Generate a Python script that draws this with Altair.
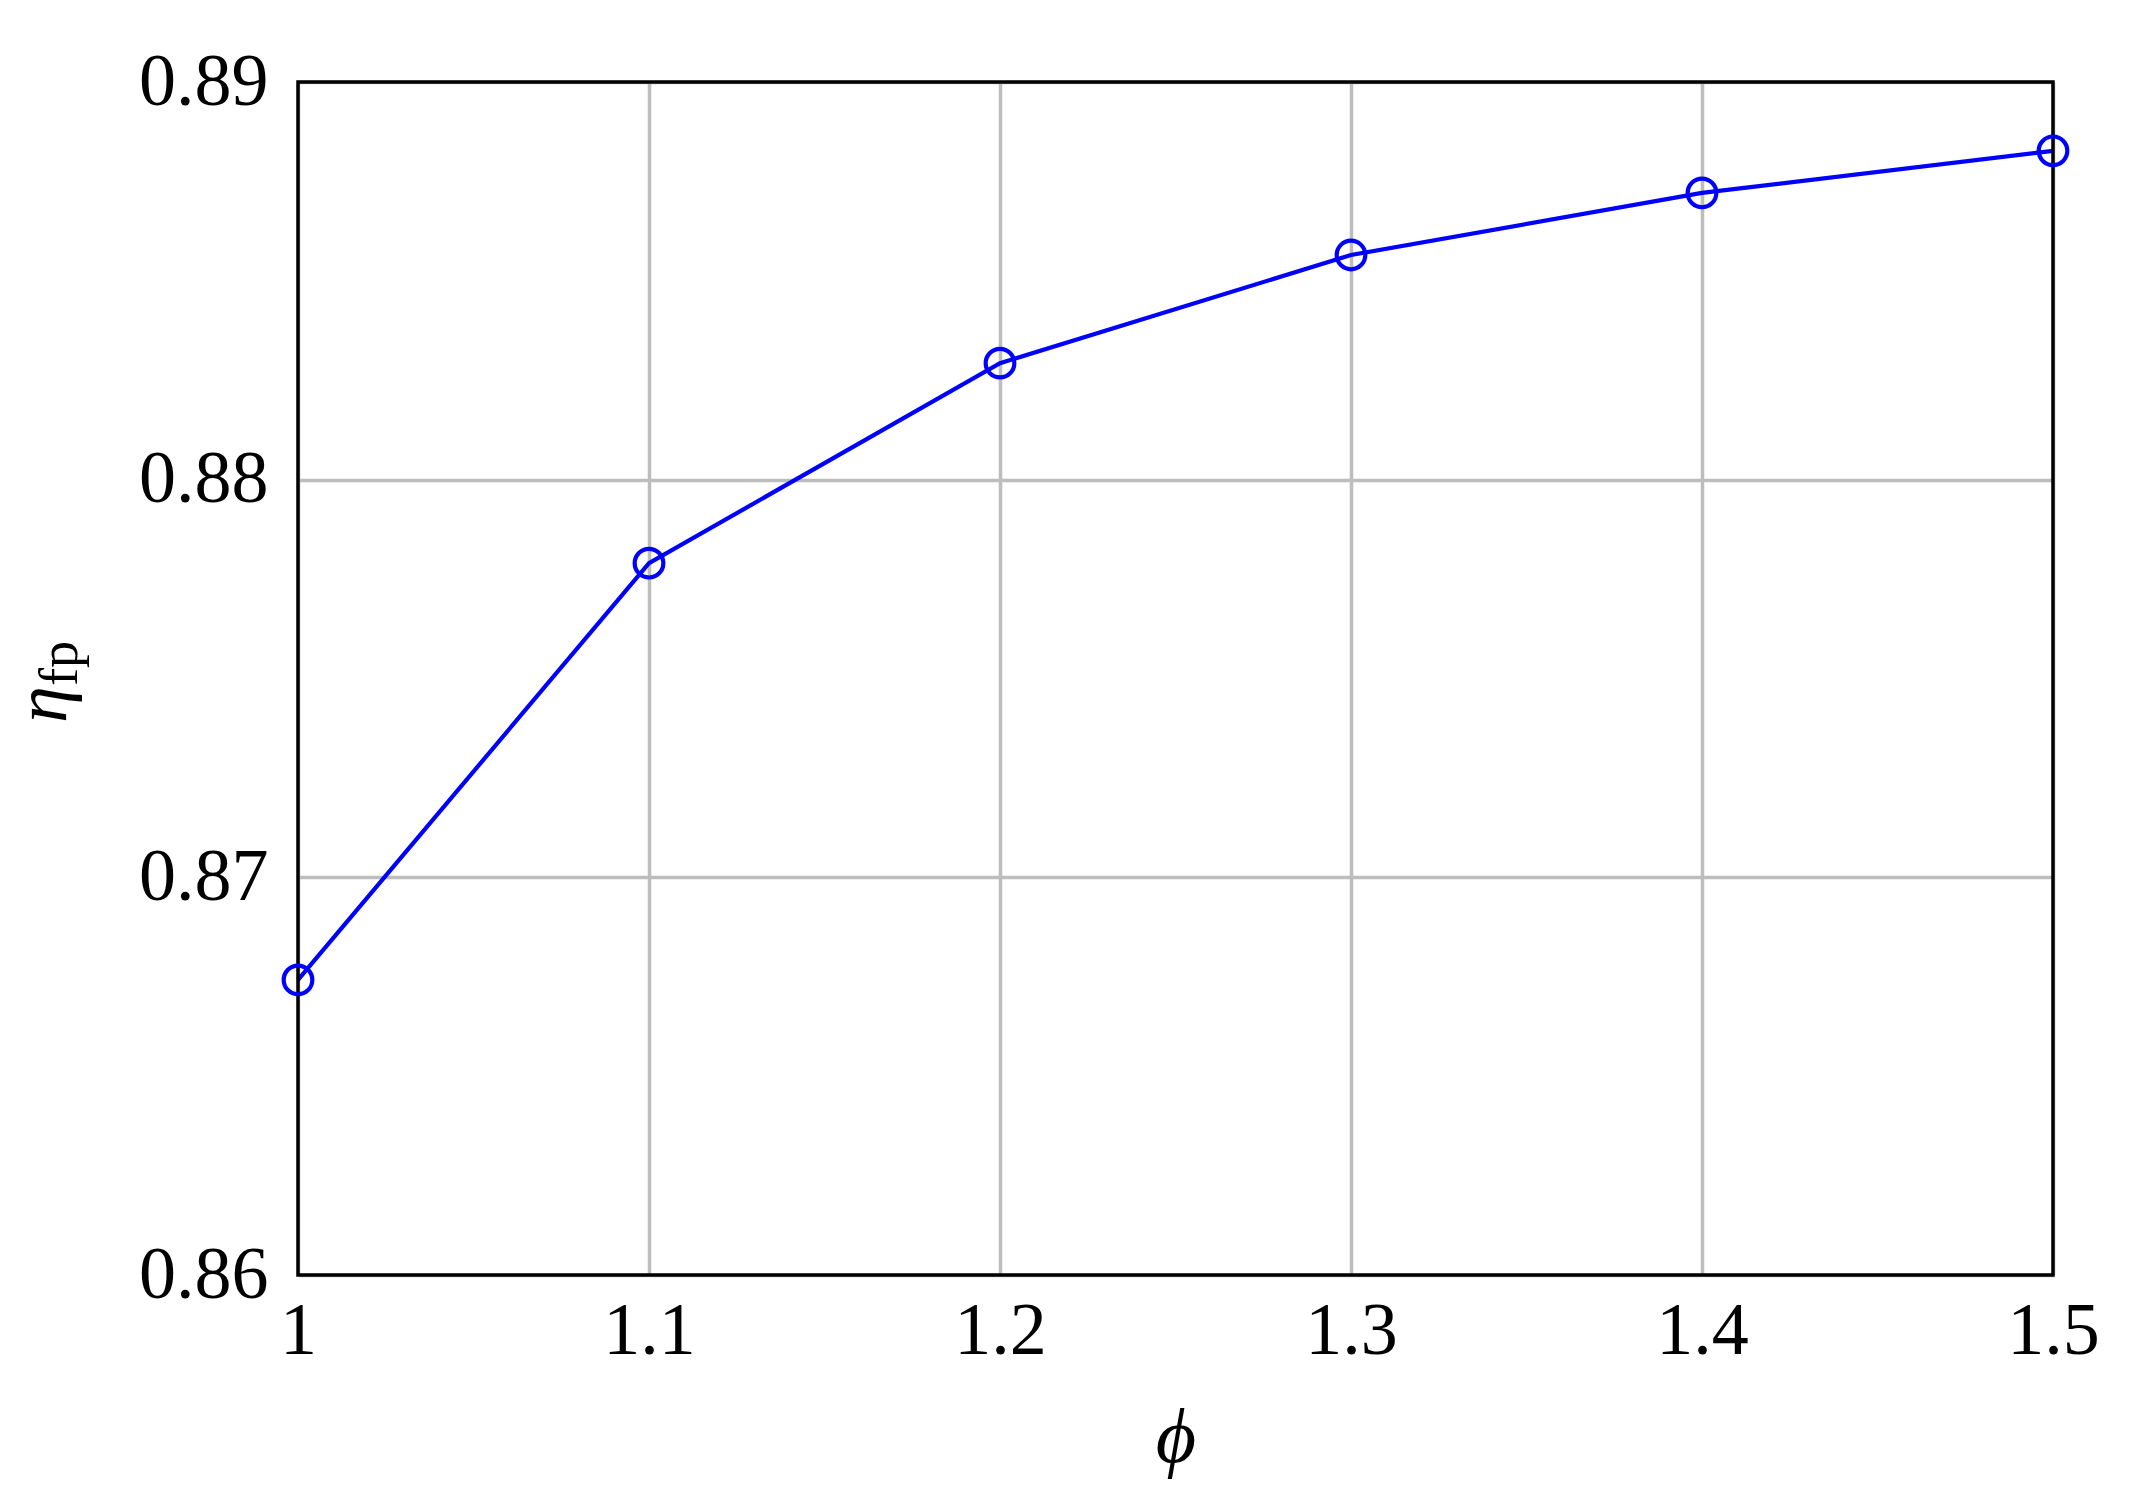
import altair as alt
import pandas as pd

phi = [1.0, 1.1, 1.2, 1.3, 1.4, 1.5]
eta_fp = [0.86742, 0.87790, 0.88293, 0.88565, 0.88721, 0.88827]
x_ticks = [1.0, 1.1, 1.2, 1.3, 1.4, 1.5]
y_ticks = [0.86, 0.87, 0.88, 0.89]

df = pd.DataFrame({"phi": phi, "eta": eta_fp})

FONT = "Liberation Serif"
W, H = 1755, 1193

x_enc = alt.X(
    "phi:Q",
    scale=alt.Scale(domain=[1.0, 1.5], nice=False, zero=False),
    axis=alt.Axis(
        values=x_ticks, format=".1~f", title="ϕ", titleFont=FONT, titleFontSize=78,
        titleFontStyle="italic", titleFontWeight="normal", titleColor="#000000",
        titleY=163, titleBaseline="middle",
        labelFont=FONT, labelFontSize=74, labelColor="#000000", labelPadding=20,
        labelFlush=False, ticks=False, domain=False,
        grid=True, gridColor="#bdbdbd", gridWidth=3.5,
    ),
)
y_enc = alt.Y(
    "eta:Q",
    scale=alt.Scale(domain=[0.86, 0.89], nice=False, zero=False),
    axis=alt.Axis(
        values=y_ticks, format=".2f", title=None,
        labelFont=FONT, labelFontSize=74, labelColor="#000000", labelPadding=30,
        labelFlush=False, ticks=False, domain=False,
        grid=True, gridColor="#bdbdbd", gridWidth=3.5,
    ),
)

line = alt.Chart(df).mark_line(color="#0000ff", strokeWidth=4.2, clip=False).encode(x=x_enc, y=y_enc)

frame_df = pd.DataFrame({"k": [0]})
frame = alt.Chart(frame_df).mark_rect(
    fill=None, fillOpacity=0, stroke="#000000", strokeWidth=3.5
).encode(x=alt.value(0), x2=alt.value(W), y=alt.value(0), y2=alt.value(H))

pts = alt.Chart(df).mark_point(
    shape="circle", size=820, filled=False, color="#0000ff", strokeWidth=4.2, opacity=1, clip=False
).encode(x="phi:Q", y="eta:Q")

lab_df = pd.DataFrame({"t": ["η"]})
eta_txt = alt.Chart(lab_df).mark_text(
    text="η", font=FONT, fontSize=74, fontStyle="italic", angle=270,
    align="left", baseline="alphabetic", color="#000000"
).encode(x=alt.value(-232), y=alt.value(641))
fp_txt = alt.Chart(lab_df).mark_text(
    text="fp", font=FONT, fontSize=54, angle=270,
    align="left", baseline="alphabetic", color="#000000"
).encode(x=alt.value(-221), y=alt.value(604))

chart = alt.layer(line, frame, pts, eta_txt, fp_txt).properties(
    width=W, height=H,
    autosize=alt.AutoSizeParams(type="none"),
    padding={"left": 290, "top": 74, "right": 60, "bottom": 222},
    background="#ffffff",
).configure_view(stroke=None)

chart.save("out.html", embed_options={"renderer": "svg", "actions": False})
